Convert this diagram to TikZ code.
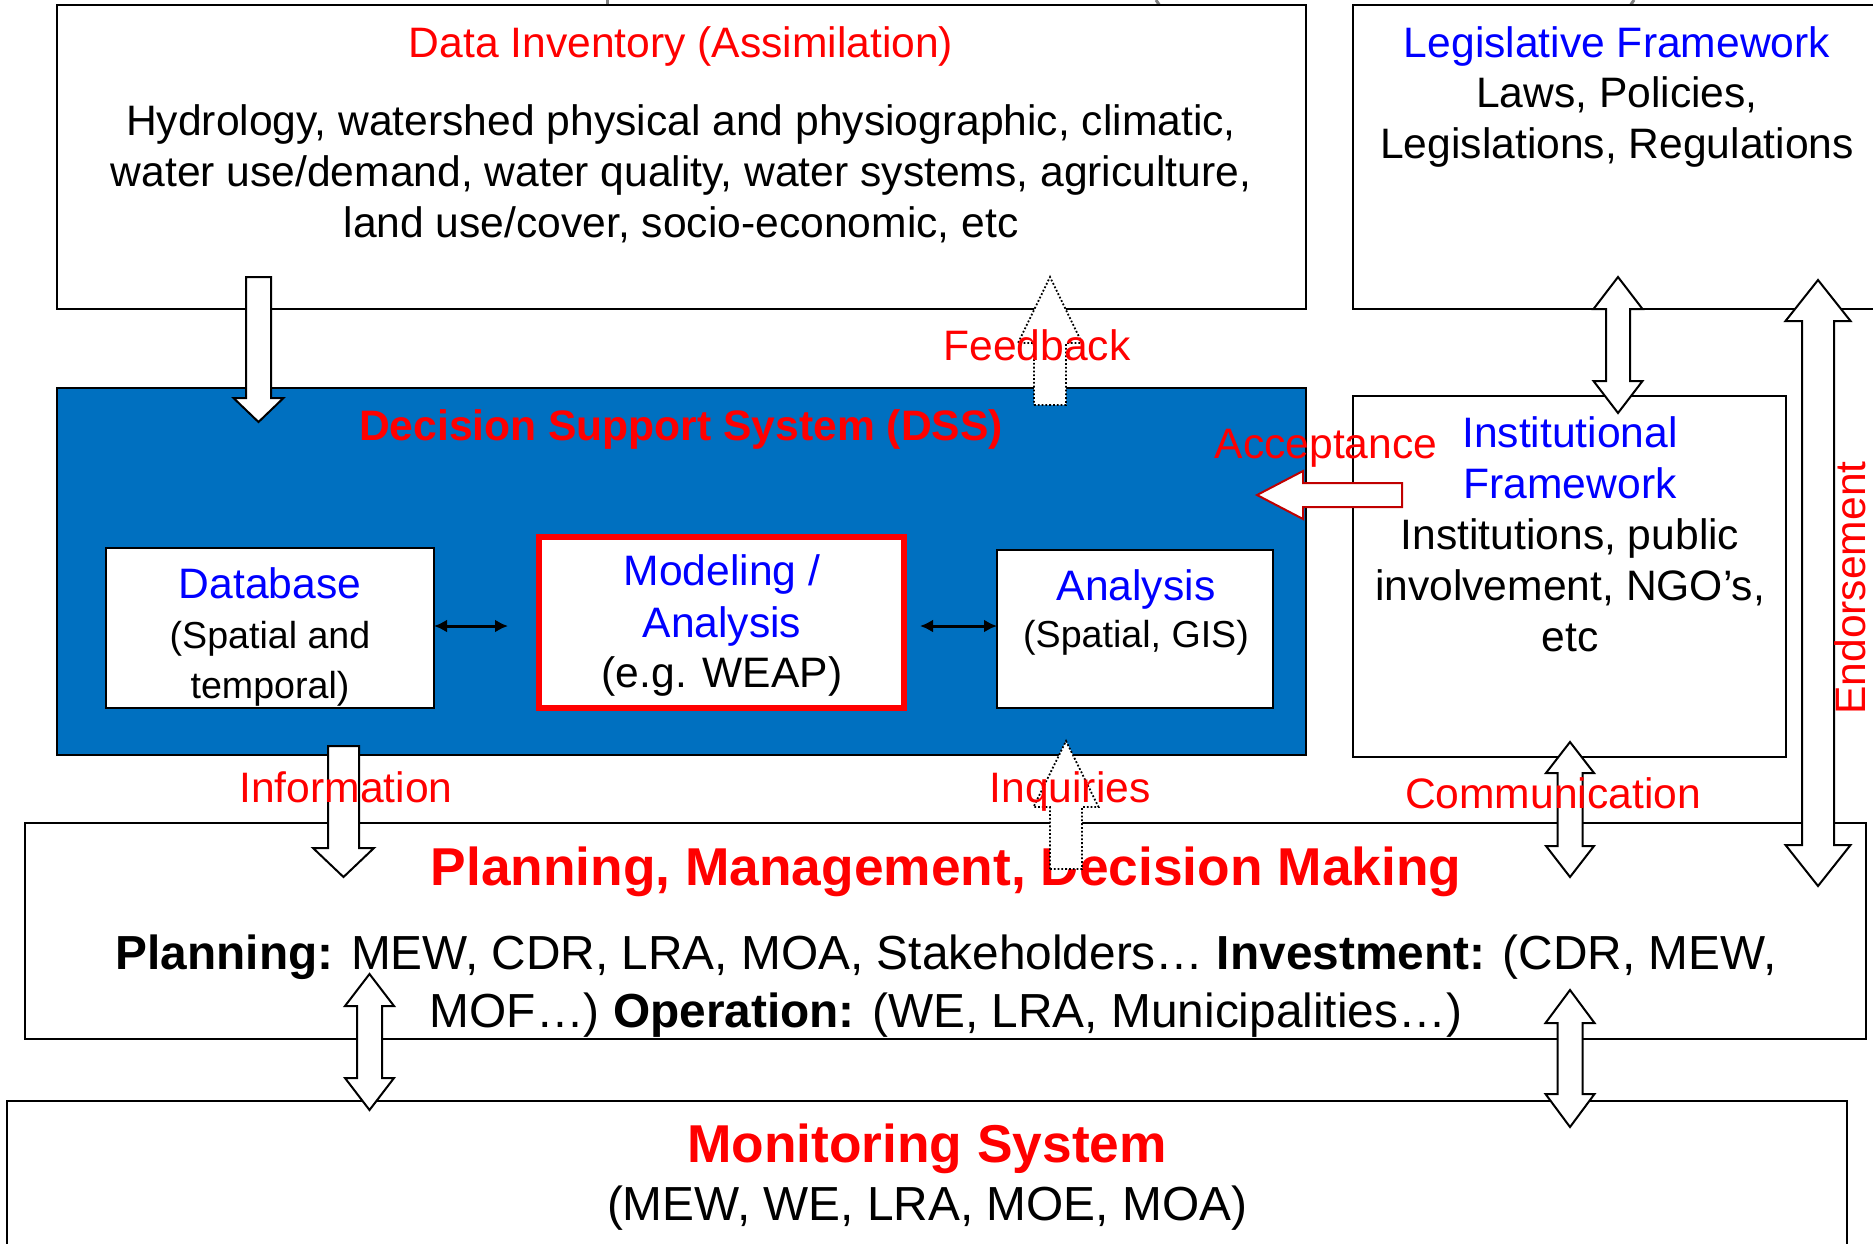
\documentclass[tikz,border=0pt]{standalone}
\usepackage{fontspec}
\setmainfont{Liberation Sans}
\usetikzlibrary{arrows.meta}
\definecolor{dssblue}{RGB}{0,112,192}
\definecolor{accred}{RGB}{192,0,0}
\definecolor{tred}{RGB}{255,0,0}
\definecolor{tblue}{RGB}{0,0,255}
% vertical double block arrow: [opts]{cx}{ytop}{ybot}{headlen}{headhalf}{shafthalf}
\newcommand{\myVdbl}[7][]{%
  \draw[blockarrow,#1] (#2,#3) -- ++(#6,#5) -- ++(-#6+#7,0) -- (#2+#7,#4-#5) -- ++(#6-#7,0)
    -- (#2,#4) -- ++(-#6,-#5) -- ++(#6-#7,0) -- (#2-#7,#3+#5) -- ++(-#6+#7,0) -- cycle;}
% downward block arrow: [opts]{cx}{ytop}{ytip}{headlen}{headhalf}{shafthalf}
\newcommand{\myVdown}[7][]{%
  \draw[blockarrow,#1] (#2-#7,#3) -- (#2+#7,#3) -- (#2+#7,#4-#5) -- (#2+#6,#4-#5) -- (#2,#4)
    -- (#2-#6,#4-#5) -- (#2-#7,#4-#5) -- cycle;}
% upward block arrow: [opts]{cx}{ybottom}{ytip}{headlen}{headhalf}{shafthalf}
\newcommand{\myVup}[7][]{%
  \draw[blockarrow,#1] (#2-#7,#3) -- (#2+#7,#3) -- (#2+#7,#4+#5) -- (#2+#6,#4+#5) -- (#2,#4)
    -- (#2-#6,#4+#5) -- (#2-#7,#4+#5) -- cycle;}
\tikzset{
  box/.style={draw=black, line width=2.5pt, fill=white, inner sep=0pt, outer sep=0pt, anchor=north west},
  txt/.style={anchor=base, inner sep=0pt, font=\fontsize{42.6}{50}\selectfont},
  smalltxt/.style={anchor=base, inner sep=0pt, font=\fontsize{37.6}{44}\selectfont},
  bigtxt/.style={anchor=base, inner sep=0pt, font=\fontsize{47.8}{58}\selectfont},
  headtxt/.style={anchor=base, inner sep=0pt, font=\fontsize{53.3}{64}\selectfont\bfseries, text=tred},
  lbl/.style={txt, text=tred},
  bluetxt/.style={txt, text=tblue},
  blockarrow/.style={draw=black, line width=2pt, fill=white, line join=miter},
  dotarrow/.style={line width=1.8pt, dotted},
  smallarr/.style={line width=3pt, {Latex[length=13pt,width=13pt]}-{Latex[length=13pt,width=13pt]}},
}
\begin{document}
\begin{tikzpicture}[x=1pt,y=-1pt]
\useasboundingbox (0,0) rectangle (1873,1243);
\clip (0,0) rectangle (1873,1243);
\fill[white] (0,0) rectangle (1873,1243);

% fragments of shapes above the picture
\draw[gray, line width=3pt] (607,0) -- (607,6);
\draw[gray, line width=3pt] (1156,0) -- (1160,6);
\draw[gray, line width=3pt] (1634,0) -- (1630,6);

% boxes
\node[box, minimum width=1249, minimum height=304] (data) at (57,5) {};
\node[box, minimum width=540, minimum height=304] (legis) at (1353,5) {};
\node[box, fill=dssblue, minimum width=1249, minimum height=367] (dss) at (57,388) {};
\node[box, minimum width=328, minimum height=160] (db) at (106,548) {};
\node[box, draw=tred, line width=6pt, minimum width=365, minimum height=171] (model) at (539,537) {};
\node[box, minimum width=276, minimum height=158] (ana) at (997,550) {};
\node[box, minimum width=433, minimum height=361] (inst) at (1353,396) {};
\node[box, minimum width=1841, minimum height=216] (plan) at (25,823) {};
\node[box, minimum width=1840, minimum height=170] (mon) at (7,1101) {};

% box texts
\node[lbl] (datatitle) at (681,57) {Data Inventory (Assimilation)};
\node[txt] (datab1) at (681,135) {Hydrology, watershed physical and physiographic, climatic,};
\node[txt] (datab2) at (681,186) {water use/demand, water quality, water systems, agriculture,};
\node[txt] (datab3) at (681,237) {land use/cover, socio-economic, etc};

\node[bluetxt] (legtitle) at (1617,57) {Legislative Framework};
\node[txt] (leg1) at (1617,107) {Laws, Policies,};
\node[txt] (leg2) at (1617,158) {Legislations, Regulations};

\node[txt, font=\fontsize{42.6}{50}\selectfont\bfseries, text=tred] (dsstitle) at (681,440) {Decision Support System (DSS)};

\node[bluetxt] (dbt1) at (270,598) {Database};
\node[smalltxt] (dbt2) at (270,648) {(Spatial and};
\node[smalltxt] (dbt3) at (270,698) {temporal)};

\node[bluetxt] (mt1) at (722,585) {Modeling /};
\node[bluetxt] (mt2) at (722,637) {Analysis};
\node[txt] (mt3) at (722,687) {(e.g. WEAP)};

\node[bluetxt] (at1) at (1136,600) {Analysis};
\node[smalltxt] (at2) at (1136,647) {(Spatial, GIS)};

\node[bluetxt] (it1) at (1570,447) {Institutional};
\node[bluetxt] (it2) at (1570,498) {Framework};
\node[txt] (it3) at (1570,549) {Institutions, public};
\node[txt] (it4) at (1570,600) {involvement, NGO’s,};
\node[txt] (it5) at (1570,651) {etc};

\node[headtxt] (plantitle) at (946,885) {Planning, Management, Decision Making};
\node[bigtxt] (pl1) at (946,969) {\textbf{Planning:} MEW, CDR, LRA, MOA, Stakeholders… \textbf{Investment:} (CDR, MEW,};
\node[bigtxt] (pl2) at (946,1027) {MOF…) \textbf{Operation:} (WE, LRA, Municipalities…)};

\node[headtxt] (montitle) at (927,1162) {Monitoring System};
\node[bigtxt] (monsub) at (927,1220) {(MEW, WE, LRA, MOE, MOA)};

% small arrows inside DSS
\coordinate (rowy) at (0,626);
\draw[smallarr] (db.east |- rowy) -- ([xshift=-31pt]model.west |- rowy);
\draw[smallarr] ([xshift=16pt]model.east |- rowy) -- (ana.west |- rowy);

% block arrows
\myVdown{258.5}{277}{422}{24}{25}{12.5}
\myVup[dotarrow]{1050}{405}{277}{66}{32}{16}
\draw[blockarrow, draw=accred] (1402,483) -- (1303,483) -- (1303,471) -- (1257,495) -- (1303,519) -- (1303,507) -- (1402,507) -- cycle;
\myVdbl{1618}{277}{413}{32}{24.5}{12}
\myVdbl{1818}{280}{886}{41}{32.5}{16}
\myVdown{343.5}{746}{877}{29}{30.5}{15.5}
\myVup[dotarrow]{1066}{869}{741}{66}{32.5}{16}
\myVdbl{1570}{742}{877}{31}{24}{12.5}
\myVdbl{369.5}{974}{1110}{32}{24.5}{12.5}
\myVdbl{1570}{990}{1127}{33}{24.5}{12.5}

% connector labels
\node[lbl] (feedback) at (1037,360) {Feedback};
\node[lbl] (accept) at (1326,458) {Acceptance};
\node[lbl] (info) at (346,802) {Information};
\node[lbl] (inq) at (1070,802) {Inquiries};
\node[lbl] (comm) at (1553,808) {Communication};
\node[lbl, rotate=90] (endorse) at (1865,588) {Endorsement};
\end{tikzpicture}
\end{document}
